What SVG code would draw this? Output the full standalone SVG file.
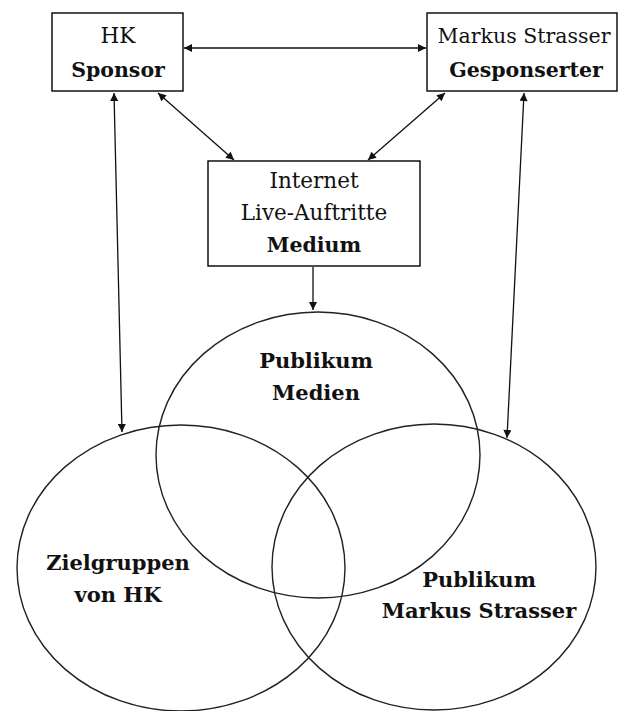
<svg xmlns="http://www.w3.org/2000/svg" width="618" height="711" viewBox="0 0 618 711">
<style>
.box{fill:#fff;stroke:#000;stroke-width:1.4}
.ell{fill:none;stroke:#222;stroke-width:1.4}
.c{stroke:#111;stroke-width:1.3;fill:none}
text{font-family:"DejaVu Serif","Liberation Serif",serif;fill:#111;text-anchor:middle}
.r{font-size:21.5px;font-weight:normal}
.b{font-size:20.5px;font-weight:bold}
.bc{font-size:21px;font-weight:bold}
</style>
<defs>
<marker id="ah" viewBox="0 0 10 10" refX="10" refY="5" markerWidth="9" markerHeight="8" markerUnits="userSpaceOnUse" orient="auto-start-reverse">
<path d="M0,0 L10,5 L0,10 z" fill="#111"/>
</marker>
</defs>
<rect width="618" height="711" fill="#fff"/>
<g id="venn">
<ellipse id="publikum-medien-shape" class="ell" cx="318" cy="455" rx="162" ry="143"/>
<ellipse id="zielgruppen-shape" class="ell" cx="181" cy="568" rx="164" ry="143"/>
<ellipse id="publikum-ms-shape" class="ell" cx="434" cy="567" rx="162" ry="143"/>
</g>
<g id="connectors">
<line class="c" x1="184" y1="48" x2="426" y2="48" marker-start="url(#ah)" marker-end="url(#ah)"/>
<line class="c" x1="158" y1="93" x2="234" y2="160" marker-start="url(#ah)" marker-end="url(#ah)"/>
<line class="c" x1="445" y1="93" x2="368" y2="160" marker-start="url(#ah)" marker-end="url(#ah)"/>
<line class="c" x1="114" y1="93" x2="122" y2="432" marker-start="url(#ah)" marker-end="url(#ah)"/>
<line class="c" x1="524" y1="93" x2="507" y2="438" marker-start="url(#ah)" marker-end="url(#ah)"/>
<line class="c" x1="313" y1="267" x2="313" y2="310" marker-end="url(#ah)"/>
</g>
<g id="hk-sponsor">
<rect class="box" x="52" y="13" width="131" height="78"/>
<text class="r" x="118" y="43">HK</text>
<text class="b" x="118" y="77">Sponsor</text>
</g>
<g id="markus-strasser">
<rect class="box" x="427" y="13" width="190" height="78"/>
<text class="r" x="524" y="43" style="font-size:20.5px">Markus Strasser</text>
<text class="b" x="526" y="77">Gesponserter</text>
</g>
<g id="medium">
<rect class="box" x="208" y="161" width="212" height="105"/>
<text class="r" x="314" y="188">Internet</text>
<text class="r" x="314" y="220">Live-Auftritte</text>
<text class="b" x="314" y="252">Medium</text>
</g>
<g id="publikum-medien">
<text class="bc" x="316" y="368">Publikum</text>
<text class="bc" x="316" y="400">Medien</text>
</g>
<g id="zielgruppen">
<text class="bc" x="118" y="570">Zielgruppen</text>
<text class="bc" x="118" y="602">von HK</text>
</g>
<g id="publikum-ms">
<text class="bc" x="479" y="587">Publikum</text>
<text class="bc" x="479" y="618">Markus Strasser</text>
</g>
</svg>
